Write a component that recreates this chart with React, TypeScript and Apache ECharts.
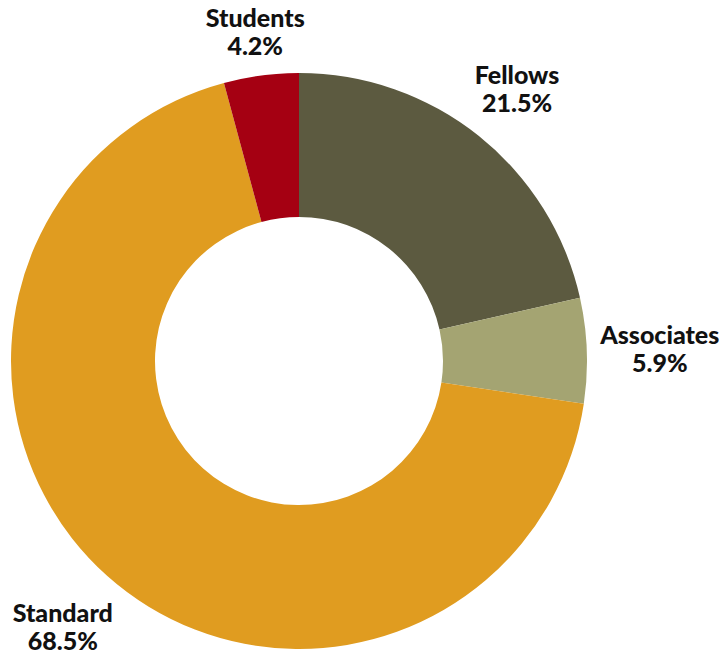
import React, { useEffect, useRef } from "react";
import * as echarts from "echarts";

const categories = ["Fellows", "Associates", "Standard", "Students"];
const values = [21.5, 5.9, 68.5, 4.2];
const colors = ["#5c5a40", "#a4a472", "#e09c20", "#a50012"];

const OUTER = 288;
const labelRadius = [346, 358, 352, 330];

export default function App() {
  const ref = useRef<HTMLDivElement>(null);
  useEffect(() => {
    document.body.style.margin = "0";
    const chart = echarts.init(ref.current!, null, { renderer: "svg" });
    const data = categories.map((name, i) => ({
      name,
      value: values[i],
      itemStyle: { color: colors[i] },
    }));
    const center = [299, 361];
    const labelSeries = categories.map((_, k) => ({
      type: "pie",
      center,
      radius: [OUTER, 2 * labelRadius[k] - OUTER],
      startAngle: 90,
      clockwise: true,
      silent: true,
      itemStyle: { color: "rgba(0,0,0,0)" },
      labelLine: { show: false },
      label: {
        show: true,
        position: "inside",
        formatter: (p: any) => `${p.name}\n${p.value}%`,
        fontFamily: "Lato",
        fontWeight: 900,
        fontSize: 25,
        lineHeight: 28,
        color: "#111111",
        align: "center",
      },
      data: categories.map((name, i) => ({
        name,
        value: values[i],
        itemStyle: { color: "rgba(0,0,0,0)" },
        label: { show: i === k },
      })),
    }));
    chart.setOption({
      animation: false,
      series: [
        {
          type: "pie",
          center,
          radius: [144, OUTER],
          startAngle: 90,
          clockwise: true,
          label: { show: false },
          labelLine: { show: false },
          silent: true,
          data,
        },
        ...labelSeries,
      ],
    });
    return () => chart.dispose();
  }, []);
  return <div ref={ref} style={{ width: 724, height: 654 }} />;
}
